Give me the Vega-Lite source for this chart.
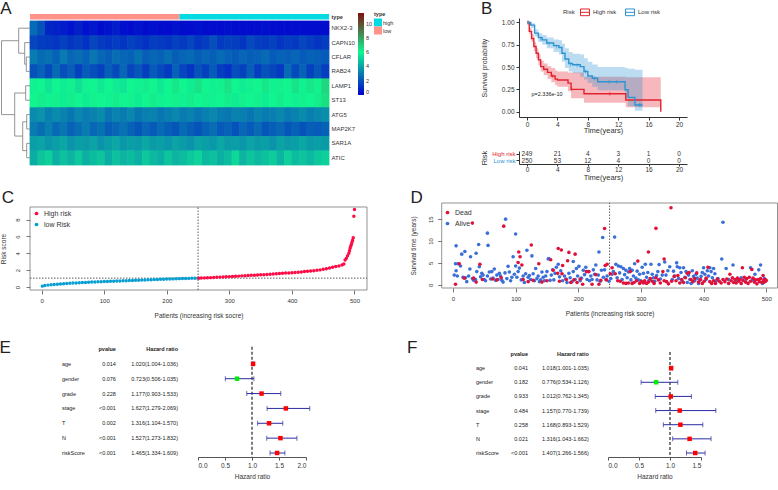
{"$schema":"https://vega.github.io/schema/vega-lite/v6.json","width":778,"height":490,"padding":0,"autosize":{"type":"none"},"background":"white",
"config":{"font":"Liberation Sans","view":{"stroke":null},"axis":{"grid":false,"labelColor":"#333","titleColor":"#333","tickColor":"#555","domainColor":"#555","titleFontWeight":"normal"},"legend":{"labelColor":"#333","titleColor":"#333"}},
"resolve":{"scale":{"x":"independent","y":"independent","color":"independent"},"axis":{"x":"independent","y":"independent"},"legend":{"color":"independent"}},
"datasets":{
"heat":[
{"g":"NKX2-3","c":1,"v":2.6},{"g":"NKX2-3","c":2,"v":2.0},{"g":"NKX2-3","c":3,"v":0.9},{"g":"NKX2-3","c":4,"v":0.8},{"g":"NKX2-3","c":5,"v":0.7},{"g":"NKX2-3","c":6,"v":0.5},{"g":"NKX2-3","c":7,"v":0.8},{"g":"NKX2-3","c":8,"v":0.4},{"g":"NKX2-3","c":9,"v":0.6},{"g":"NKX2-3","c":10,"v":0.3},{"g":"NKX2-3","c":11,"v":0.5},{"g":"NKX2-3","c":12,"v":0.7},{"g":"NKX2-3","c":13,"v":0.4},{"g":"NKX2-3","c":14,"v":0.3},{"g":"NKX2-3","c":15,"v":0.5},{"g":"NKX2-3","c":16,"v":0.3},{"g":"NKX2-3","c":17,"v":0.4},{"g":"NKX2-3","c":18,"v":0.3},{"g":"NKX2-3","c":19,"v":0.3},{"g":"NKX2-3","c":20,"v":0.5},{"g":"NKX2-3","c":21,"v":0.3},{"g":"NKX2-3","c":22,"v":0.3},{"g":"NKX2-3","c":23,"v":0.4},{"g":"NKX2-3","c":24,"v":0.3},{"g":"NKX2-3","c":25,"v":0.3},{"g":"NKX2-3","c":26,"v":0.3},{"g":"NKX2-3","c":27,"v":0.4},{"g":"NKX2-3","c":28,"v":0.3},{"g":"NKX2-3","c":29,"v":0.3},{"g":"NKX2-3","c":30,"v":0.3},{"g":"NKX2-3","c":31,"v":0.3},{"g":"NKX2-3","c":32,"v":0.4},{"g":"NKX2-3","c":33,"v":0.3},{"g":"NKX2-3","c":34,"v":0.3},{"g":"NKX2-3","c":35,"v":0.3},{"g":"NKX2-3","c":36,"v":0.3},{"g":"NKX2-3","c":37,"v":0.3},{"g":"NKX2-3","c":38,"v":0.3},{"g":"NKX2-3","c":39,"v":0.3},{"g":"NKX2-3","c":40,"v":0.3},
{"g":"CAPN10","c":1,"v":1.7},{"g":"CAPN10","c":2,"v":1.5},{"g":"CAPN10","c":3,"v":1.4},{"g":"CAPN10","c":4,"v":1.3},{"g":"CAPN10","c":5,"v":1.6},{"g":"CAPN10","c":6,"v":1.3},{"g":"CAPN10","c":7,"v":1.5},{"g":"CAPN10","c":8,"v":1.2},{"g":"CAPN10","c":9,"v":1.7},{"g":"CAPN10","c":10,"v":1.4},{"g":"CAPN10","c":11,"v":1.3},{"g":"CAPN10","c":12,"v":1.5},{"g":"CAPN10","c":13,"v":1.3},{"g":"CAPN10","c":14,"v":1.6},{"g":"CAPN10","c":15,"v":1.4},{"g":"CAPN10","c":16,"v":1.2},{"g":"CAPN10","c":17,"v":1.5},{"g":"CAPN10","c":18,"v":1.4},{"g":"CAPN10","c":19,"v":1.3},{"g":"CAPN10","c":20,"v":1.6},{"g":"CAPN10","c":21,"v":1.4},{"g":"CAPN10","c":22,"v":1.7},{"g":"CAPN10","c":23,"v":1.3},{"g":"CAPN10","c":24,"v":1.5},{"g":"CAPN10","c":25,"v":1.9},{"g":"CAPN10","c":26,"v":1.4},{"g":"CAPN10","c":27,"v":1.6},{"g":"CAPN10","c":28,"v":1.5},{"g":"CAPN10","c":29,"v":1.3},{"g":"CAPN10","c":30,"v":1.8},{"g":"CAPN10","c":31,"v":1.5},{"g":"CAPN10","c":32,"v":1.4},{"g":"CAPN10","c":33,"v":1.6},{"g":"CAPN10","c":34,"v":1.3},{"g":"CAPN10","c":35,"v":1.5},{"g":"CAPN10","c":36,"v":1.4},{"g":"CAPN10","c":37,"v":1.7},{"g":"CAPN10","c":38,"v":1.5},{"g":"CAPN10","c":39,"v":1.3},{"g":"CAPN10","c":40,"v":1.5},
{"g":"CFLAR","c":1,"v":3.0},{"g":"CFLAR","c":2,"v":2.6},{"g":"CFLAR","c":3,"v":2.8},{"g":"CFLAR","c":4,"v":2.4},{"g":"CFLAR","c":5,"v":3.0},{"g":"CFLAR","c":6,"v":2.5},{"g":"CFLAR","c":7,"v":2.7},{"g":"CFLAR","c":8,"v":2.4},{"g":"CFLAR","c":9,"v":2.9},{"g":"CFLAR","c":10,"v":2.5},{"g":"CFLAR","c":11,"v":2.3},{"g":"CFLAR","c":12,"v":2.7},{"g":"CFLAR","c":13,"v":2.5},{"g":"CFLAR","c":14,"v":2.4},{"g":"CFLAR","c":15,"v":2.8},{"g":"CFLAR","c":16,"v":2.3},{"g":"CFLAR","c":17,"v":2.5},{"g":"CFLAR","c":18,"v":2.4},{"g":"CFLAR","c":19,"v":2.7},{"g":"CFLAR","c":20,"v":2.3},{"g":"CFLAR","c":21,"v":2.5},{"g":"CFLAR","c":22,"v":2.6},{"g":"CFLAR","c":23,"v":2.3},{"g":"CFLAR","c":24,"v":2.5},{"g":"CFLAR","c":25,"v":2.3},{"g":"CFLAR","c":26,"v":2.6},{"g":"CFLAR","c":27,"v":2.4},{"g":"CFLAR","c":28,"v":2.2},{"g":"CFLAR","c":29,"v":2.5},{"g":"CFLAR","c":30,"v":2.3},{"g":"CFLAR","c":31,"v":2.4},{"g":"CFLAR","c":32,"v":2.6},{"g":"CFLAR","c":33,"v":2.2},{"g":"CFLAR","c":34,"v":2.4},{"g":"CFLAR","c":35,"v":2.3},{"g":"CFLAR","c":36,"v":2.5},{"g":"CFLAR","c":37,"v":2.2},{"g":"CFLAR","c":38,"v":2.4},{"g":"CFLAR","c":39,"v":2.3},{"g":"CFLAR","c":40,"v":2.2},
{"g":"RAB24","c":1,"v":2.0},{"g":"RAB24","c":2,"v":2.4},{"g":"RAB24","c":3,"v":1.8},{"g":"RAB24","c":4,"v":2.6},{"g":"RAB24","c":5,"v":1.9},{"g":"RAB24","c":6,"v":2.3},{"g":"RAB24","c":7,"v":1.6},{"g":"RAB24","c":8,"v":2.2},{"g":"RAB24","c":9,"v":1.9},{"g":"RAB24","c":10,"v":1.6},{"g":"RAB24","c":11,"v":2.3},{"g":"RAB24","c":12,"v":1.8},{"g":"RAB24","c":13,"v":2.5},{"g":"RAB24","c":14,"v":1.7},{"g":"RAB24","c":15,"v":2.1},{"g":"RAB24","c":16,"v":1.5},{"g":"RAB24","c":17,"v":2.2},{"g":"RAB24","c":18,"v":1.8},{"g":"RAB24","c":19,"v":1.4},{"g":"RAB24","c":20,"v":2.4},{"g":"RAB24","c":21,"v":1.7},{"g":"RAB24","c":22,"v":1.3},{"g":"RAB24","c":23,"v":2.0},{"g":"RAB24","c":24,"v":1.6},{"g":"RAB24","c":25,"v":2.2},{"g":"RAB24","c":26,"v":1.5},{"g":"RAB24","c":27,"v":1.2},{"g":"RAB24","c":28,"v":1.9},{"g":"RAB24","c":29,"v":1.6},{"g":"RAB24","c":30,"v":2.3},{"g":"RAB24","c":31,"v":1.5},{"g":"RAB24","c":32,"v":2.0},{"g":"RAB24","c":33,"v":1.7},{"g":"RAB24","c":34,"v":1.4},{"g":"RAB24","c":35,"v":2.6},{"g":"RAB24","c":36,"v":1.8},{"g":"RAB24","c":37,"v":2.4},{"g":"RAB24","c":38,"v":1.6},{"g":"RAB24","c":39,"v":2.1},{"g":"RAB24","c":40,"v":1.5},
{"g":"LAMP1","c":1,"v":5.9},{"g":"LAMP1","c":2,"v":6.0},{"g":"LAMP1","c":3,"v":5.6},{"g":"LAMP1","c":4,"v":6.0},{"g":"LAMP1","c":5,"v":5.8},{"g":"LAMP1","c":6,"v":6.1},{"g":"LAMP1","c":7,"v":5.5},{"g":"LAMP1","c":8,"v":5.9},{"g":"LAMP1","c":9,"v":6.0},{"g":"LAMP1","c":10,"v":5.7},{"g":"LAMP1","c":11,"v":6.0},{"g":"LAMP1","c":12,"v":5.8},{"g":"LAMP1","c":13,"v":5.6},{"g":"LAMP1","c":14,"v":6.0},{"g":"LAMP1","c":15,"v":5.9},{"g":"LAMP1","c":16,"v":6.2},{"g":"LAMP1","c":17,"v":6.0},{"g":"LAMP1","c":18,"v":5.7},{"g":"LAMP1","c":19,"v":6.0},{"g":"LAMP1","c":20,"v":6.3},{"g":"LAMP1","c":21,"v":6.0},{"g":"LAMP1","c":22,"v":5.8},{"g":"LAMP1","c":23,"v":6.4},{"g":"LAMP1","c":24,"v":6.0},{"g":"LAMP1","c":25,"v":5.9},{"g":"LAMP1","c":26,"v":6.1},{"g":"LAMP1","c":27,"v":6.4},{"g":"LAMP1","c":28,"v":6.0},{"g":"LAMP1","c":29,"v":5.8},{"g":"LAMP1","c":30,"v":6.1},{"g":"LAMP1","c":31,"v":6.0},{"g":"LAMP1","c":32,"v":6.3},{"g":"LAMP1","c":33,"v":5.9},{"g":"LAMP1","c":34,"v":6.1},{"g":"LAMP1","c":35,"v":6.0},{"g":"LAMP1","c":36,"v":6.4},{"g":"LAMP1","c":37,"v":5.9},{"g":"LAMP1","c":38,"v":6.3},{"g":"LAMP1","c":39,"v":6.1},{"g":"LAMP1","c":40,"v":6.7},
{"g":"ST13","c":1,"v":6.0},{"g":"ST13","c":2,"v":6.2},{"g":"ST13","c":3,"v":5.9},{"g":"ST13","c":4,"v":6.1},{"g":"ST13","c":5,"v":5.8},{"g":"ST13","c":6,"v":6.2},{"g":"ST13","c":7,"v":6.0},{"g":"ST13","c":8,"v":5.8},{"g":"ST13","c":9,"v":6.1},{"g":"ST13","c":10,"v":6.0},{"g":"ST13","c":11,"v":5.9},{"g":"ST13","c":12,"v":6.2},{"g":"ST13","c":13,"v":6.0},{"g":"ST13","c":14,"v":6.1},{"g":"ST13","c":15,"v":5.8},{"g":"ST13","c":16,"v":6.0},{"g":"ST13","c":17,"v":6.2},{"g":"ST13","c":18,"v":5.9},{"g":"ST13","c":19,"v":6.0},{"g":"ST13","c":20,"v":6.1},{"g":"ST13","c":21,"v":5.9},{"g":"ST13","c":22,"v":6.2},{"g":"ST13","c":23,"v":6.0},{"g":"ST13","c":24,"v":6.1},{"g":"ST13","c":25,"v":5.9},{"g":"ST13","c":26,"v":6.0},{"g":"ST13","c":27,"v":6.2},{"g":"ST13","c":28,"v":5.8},{"g":"ST13","c":29,"v":6.1},{"g":"ST13","c":30,"v":6.0},{"g":"ST13","c":31,"v":6.1},{"g":"ST13","c":32,"v":5.8},{"g":"ST13","c":33,"v":6.0},{"g":"ST13","c":34,"v":6.2},{"g":"ST13","c":35,"v":6.0},{"g":"ST13","c":36,"v":5.9},{"g":"ST13","c":37,"v":6.1},{"g":"ST13","c":38,"v":6.0},{"g":"ST13","c":39,"v":6.2},{"g":"ST13","c":40,"v":6.5},
{"g":"ATG5","c":1,"v":3.4},{"g":"ATG5","c":2,"v":3.6},{"g":"ATG5","c":3,"v":3.1},{"g":"ATG5","c":4,"v":3.4},{"g":"ATG5","c":5,"v":3.2},{"g":"ATG5","c":6,"v":2.9},{"g":"ATG5","c":7,"v":3.3},{"g":"ATG5","c":8,"v":3.0},{"g":"ATG5","c":9,"v":3.2},{"g":"ATG5","c":10,"v":3.4},{"g":"ATG5","c":11,"v":2.9},{"g":"ATG5","c":12,"v":3.2},{"g":"ATG5","c":13,"v":3.0},{"g":"ATG5","c":14,"v":3.3},{"g":"ATG5","c":15,"v":2.9},{"g":"ATG5","c":16,"v":3.1},{"g":"ATG5","c":17,"v":3.2},{"g":"ATG5","c":18,"v":2.9},{"g":"ATG5","c":19,"v":3.1},{"g":"ATG5","c":20,"v":3.3},{"g":"ATG5","c":21,"v":3.0},{"g":"ATG5","c":22,"v":3.2},{"g":"ATG5","c":23,"v":2.9},{"g":"ATG5","c":24,"v":3.1},{"g":"ATG5","c":25,"v":3.3},{"g":"ATG5","c":26,"v":3.0},{"g":"ATG5","c":27,"v":2.9},{"g":"ATG5","c":28,"v":3.2},{"g":"ATG5","c":29,"v":3.1},{"g":"ATG5","c":30,"v":2.9},{"g":"ATG5","c":31,"v":3.2},{"g":"ATG5","c":32,"v":3.0},{"g":"ATG5","c":33,"v":3.1},{"g":"ATG5","c":34,"v":3.3},{"g":"ATG5","c":35,"v":3.0},{"g":"ATG5","c":36,"v":3.2},{"g":"ATG5","c":37,"v":3.4},{"g":"ATG5","c":38,"v":3.1},{"g":"ATG5","c":39,"v":3.3},{"g":"ATG5","c":40,"v":3.5},
{"g":"MAP2K7","c":1,"v":3.0},{"g":"MAP2K7","c":2,"v":2.7},{"g":"MAP2K7","c":3,"v":3.1},{"g":"MAP2K7","c":4,"v":2.6},{"g":"MAP2K7","c":5,"v":2.9},{"g":"MAP2K7","c":6,"v":2.4},{"g":"MAP2K7","c":7,"v":2.7},{"g":"MAP2K7","c":8,"v":3.0},{"g":"MAP2K7","c":9,"v":2.5},{"g":"MAP2K7","c":10,"v":2.8},{"g":"MAP2K7","c":11,"v":2.3},{"g":"MAP2K7","c":12,"v":2.5},{"g":"MAP2K7","c":13,"v":2.8},{"g":"MAP2K7","c":14,"v":2.4},{"g":"MAP2K7","c":15,"v":2.1},{"g":"MAP2K7","c":16,"v":2.5},{"g":"MAP2K7","c":17,"v":2.2},{"g":"MAP2K7","c":18,"v":2.6},{"g":"MAP2K7","c":19,"v":2.3},{"g":"MAP2K7","c":20,"v":2.1},{"g":"MAP2K7","c":21,"v":2.6},{"g":"MAP2K7","c":22,"v":2.3},{"g":"MAP2K7","c":23,"v":2.0},{"g":"MAP2K7","c":24,"v":2.4},{"g":"MAP2K7","c":25,"v":2.7},{"g":"MAP2K7","c":26,"v":2.2},{"g":"MAP2K7","c":27,"v":2.4},{"g":"MAP2K7","c":28,"v":2.0},{"g":"MAP2K7","c":29,"v":2.5},{"g":"MAP2K7","c":30,"v":2.2},{"g":"MAP2K7","c":31,"v":2.6},{"g":"MAP2K7","c":32,"v":2.1},{"g":"MAP2K7","c":33,"v":2.3},{"g":"MAP2K7","c":34,"v":2.5},{"g":"MAP2K7","c":35,"v":2.1},{"g":"MAP2K7","c":36,"v":2.4},{"g":"MAP2K7","c":37,"v":2.0},{"g":"MAP2K7","c":38,"v":2.3},{"g":"MAP2K7","c":39,"v":2.2},{"g":"MAP2K7","c":40,"v":2.4},
{"g":"SAR1A","c":1,"v":3.9},{"g":"SAR1A","c":2,"v":4.0},{"g":"SAR1A","c":3,"v":3.7},{"g":"SAR1A","c":4,"v":3.9},{"g":"SAR1A","c":5,"v":4.1},{"g":"SAR1A","c":6,"v":3.6},{"g":"SAR1A","c":7,"v":3.9},{"g":"SAR1A","c":8,"v":3.8},{"g":"SAR1A","c":9,"v":4.0},{"g":"SAR1A","c":10,"v":3.6},{"g":"SAR1A","c":11,"v":3.9},{"g":"SAR1A","c":12,"v":4.1},{"g":"SAR1A","c":13,"v":3.7},{"g":"SAR1A","c":14,"v":3.9},{"g":"SAR1A","c":15,"v":3.8},{"g":"SAR1A","c":16,"v":4.1},{"g":"SAR1A","c":17,"v":3.8},{"g":"SAR1A","c":18,"v":3.9},{"g":"SAR1A","c":19,"v":3.7},{"g":"SAR1A","c":20,"v":4.0},{"g":"SAR1A","c":21,"v":3.8},{"g":"SAR1A","c":22,"v":3.6},{"g":"SAR1A","c":23,"v":4.0},{"g":"SAR1A","c":24,"v":3.9},{"g":"SAR1A","c":25,"v":3.7},{"g":"SAR1A","c":26,"v":4.1},{"g":"SAR1A","c":27,"v":3.8},{"g":"SAR1A","c":28,"v":3.9},{"g":"SAR1A","c":29,"v":3.7},{"g":"SAR1A","c":30,"v":4.0},{"g":"SAR1A","c":31,"v":3.8},{"g":"SAR1A","c":32,"v":3.9},{"g":"SAR1A","c":33,"v":3.6},{"g":"SAR1A","c":34,"v":4.0},{"g":"SAR1A","c":35,"v":3.8},{"g":"SAR1A","c":36,"v":3.9},{"g":"SAR1A","c":37,"v":4.1},{"g":"SAR1A","c":38,"v":3.8},{"g":"SAR1A","c":39,"v":3.9},{"g":"SAR1A","c":40,"v":3.8},
{"g":"ATIC","c":1,"v":4.2},{"g":"ATIC","c":2,"v":4.8},{"g":"ATIC","c":3,"v":5.1},{"g":"ATIC","c":4,"v":4.3},{"g":"ATIC","c":5,"v":4.7},{"g":"ATIC","c":6,"v":4.4},{"g":"ATIC","c":7,"v":4.9},{"g":"ATIC","c":8,"v":4.3},{"g":"ATIC","c":9,"v":4.6},{"g":"ATIC","c":10,"v":4.8},{"g":"ATIC","c":11,"v":4.2},{"g":"ATIC","c":12,"v":4.7},{"g":"ATIC","c":13,"v":4.4},{"g":"ATIC","c":14,"v":4.6},{"g":"ATIC","c":15,"v":4.3},{"g":"ATIC","c":16,"v":4.9},{"g":"ATIC","c":17,"v":4.5},{"g":"ATIC","c":18,"v":4.3},{"g":"ATIC","c":19,"v":4.8},{"g":"ATIC","c":20,"v":4.4},{"g":"ATIC","c":21,"v":4.6},{"g":"ATIC","c":22,"v":4.9},{"g":"ATIC","c":23,"v":5.2},{"g":"ATIC","c":24,"v":4.5},{"g":"ATIC","c":25,"v":4.7},{"g":"ATIC","c":26,"v":4.3},{"g":"ATIC","c":27,"v":4.6},{"g":"ATIC","c":28,"v":5.3},{"g":"ATIC","c":29,"v":4.4},{"g":"ATIC","c":30,"v":4.8},{"g":"ATIC","c":31,"v":4.5},{"g":"ATIC","c":32,"v":4.7},{"g":"ATIC","c":33,"v":5.0},{"g":"ATIC","c":34,"v":4.4},{"g":"ATIC","c":35,"v":5.1},{"g":"ATIC","c":36,"v":4.6},{"g":"ATIC","c":37,"v":4.8},{"g":"ATIC","c":38,"v":4.5},{"g":"ATIC","c":39,"v":4.9},{"g":"ATIC","c":40,"v":5.1}
],
"km":[
{"g":"High risk","t":0,"s":1,"lo":1,"hi":1},{"g":"High risk","t":0.3,"s":0.9,"lo":0.87,"hi":0.94},{"g":"High risk","t":0.6,"s":0.82,"lo":0.78,"hi":0.87},{"g":"High risk","t":0.9,"s":0.73,"lo":0.68,"hi":0.78},{"g":"High risk","t":1.2,"s":0.655,"lo":0.6,"hi":0.71},{"g":"High risk","t":1.5,"s":0.58,"lo":0.52,"hi":0.64},{"g":"High risk","t":1.8,"s":0.505,"lo":0.45,"hi":0.57},{"g":"High risk","t":2.2,"s":0.475,"lo":0.41,"hi":0.54},{"g":"High risk","t":2.7,"s":0.44,"lo":0.37,"hi":0.51},{"g":"High risk","t":3.2,"s":0.4,"lo":0.33,"hi":0.49},{"g":"High risk","t":3.7,"s":0.365,"lo":0.3,"hi":0.46},{"g":"High risk","t":4,"s":0.355,"lo":0.28,"hi":0.45},{"g":"High risk","t":5.4,"s":0.32,"lo":0.23,"hi":0.44},{"g":"High risk","t":5.8,"s":0.25,"lo":0.15,"hi":0.44},{"g":"High risk","t":7.5,"s":0.2,"lo":0.1,"hi":0.39},{"g":"High risk","t":13,"s":0.13,"lo":0.05,"hi":0.385},{"g":"High risk","t":17.6,"s":0,"lo":0.05,"hi":0.385},
{"g":"Low risk","t":0,"s":1,"lo":1,"hi":1},{"g":"Low risk","t":0.5,"s":0.97,"lo":0.94,"hi":0.99},{"g":"Low risk","t":1,"s":0.88,"lo":0.84,"hi":0.92},{"g":"Low risk","t":1.5,"s":0.83,"lo":0.78,"hi":0.88},{"g":"Low risk","t":2,"s":0.805,"lo":0.75,"hi":0.86},{"g":"Low risk","t":2.6,"s":0.77,"lo":0.71,"hi":0.83},{"g":"Low risk","t":3.5,"s":0.74,"lo":0.67,"hi":0.81},{"g":"Low risk","t":4.2,"s":0.72,"lo":0.64,"hi":0.8},{"g":"Low risk","t":4.6,"s":0.655,"lo":0.56,"hi":0.76},{"g":"Low risk","t":5,"s":0.59,"lo":0.49,"hi":0.71},{"g":"Low risk","t":5.5,"s":0.54,"lo":0.45,"hi":0.67},{"g":"Low risk","t":6,"s":0.525,"lo":0.43,"hi":0.65},{"g":"Low risk","t":7,"s":0.505,"lo":0.39,"hi":0.64},{"g":"Low risk","t":7.5,"s":0.45,"lo":0.36,"hi":0.6},{"g":"Low risk","t":8,"s":0.4,"lo":0.32,"hi":0.56},{"g":"Low risk","t":8.6,"s":0.375,"lo":0.28,"hi":0.53},{"g":"Low risk","t":9.3,"s":0.335,"lo":0.24,"hi":0.5},{"g":"Low risk","t":12.9,"s":0.245,"lo":0.15,"hi":0.49},{"g":"Low risk","t":13.3,"s":0.16,"lo":0.06,"hi":0.48},{"g":"Low risk","t":14.2,"s":0.075,"lo":0.01,"hi":0.47},{"g":"Low risk","t":15.2,"s":0.075,"lo":0.01,"hi":0.47}
],
"censor":[{"g":"High risk","t":0.1,"s":1},{"g":"High risk","t":3.4,"s":0.4},{"g":"High risk","t":5.9,"s":0.25},{"g":"High risk","t":10.9,"s":0.2},{"g":"Low risk","t":0.2,"s":1},{"g":"Low risk","t":1.8,"s":0.82},{"g":"Low risk","t":2.9,"s":0.76},{"g":"Low risk","t":3.9,"s":0.73},{"g":"Low risk","t":5.7,"s":0.53},{"g":"Low risk","t":6.6,"s":0.52},{"g":"Low risk","t":7.7,"s":0.45},{"g":"Low risk","t":8.9,"s":0.375},{"g":"Low risk","t":10.8,"s":0.335},{"g":"Low risk","t":11.8,"s":0.335},{"g":"Low risk","t":14.8,"s":0.075},{"g":"Low risk","t":15,"s":0.075}],
"riskscore":[
{"r":1,"v":0.1,"g":"low Risk"},{"r":5,"v":0.17,"g":"low Risk"},{"r":10,"v":0.22,"g":"low Risk"},{"r":15,"v":0.26,"g":"low Risk"},{"r":20,"v":0.3,"g":"low Risk"},{"r":25,"v":0.33,"g":"low Risk"},{"r":30,"v":0.36,"g":"low Risk"},{"r":35,"v":0.39,"g":"low Risk"},{"r":40,"v":0.41,"g":"low Risk"},{"r":45,"v":0.44,"g":"low Risk"},{"r":50,"v":0.46,"g":"low Risk"},{"r":55,"v":0.48,"g":"low Risk"},{"r":60,"v":0.5,"g":"low Risk"},{"r":65,"v":0.52,"g":"low Risk"},{"r":70,"v":0.54,"g":"low Risk"},{"r":75,"v":0.56,"g":"low Risk"},{"r":80,"v":0.58,"g":"low Risk"},{"r":85,"v":0.59,"g":"low Risk"},{"r":90,"v":0.61,"g":"low Risk"},{"r":95,"v":0.62,"g":"low Risk"},{"r":100,"v":0.64,"g":"low Risk"},{"r":105,"v":0.66,"g":"low Risk"},{"r":110,"v":0.67,"g":"low Risk"},{"r":115,"v":0.69,"g":"low Risk"},{"r":120,"v":0.7,"g":"low Risk"},{"r":125,"v":0.72,"g":"low Risk"},{"r":130,"v":0.73,"g":"low Risk"},{"r":135,"v":0.75,"g":"low Risk"},{"r":140,"v":0.76,"g":"low Risk"},{"r":145,"v":0.78,"g":"low Risk"},{"r":150,"v":0.79,"g":"low Risk"},{"r":155,"v":0.81,"g":"low Risk"},{"r":160,"v":0.82,"g":"low Risk"},{"r":165,"v":0.84,"g":"low Risk"},{"r":170,"v":0.85,"g":"low Risk"},{"r":175,"v":0.87,"g":"low Risk"},{"r":180,"v":0.88,"g":"low Risk"},{"r":185,"v":0.9,"g":"low Risk"},{"r":190,"v":0.91,"g":"low Risk"},{"r":195,"v":0.92,"g":"low Risk"},{"r":200,"v":0.94,"g":"low Risk"},{"r":205,"v":0.95,"g":"low Risk"},{"r":210,"v":0.96,"g":"low Risk"},{"r":215,"v":0.98,"g":"low Risk"},{"r":220,"v":0.99,"g":"low Risk"},{"r":225,"v":1.0,"g":"low Risk"},{"r":230,"v":1.01,"g":"low Risk"},{"r":235,"v":1.02,"g":"low Risk"},{"r":240,"v":1.03,"g":"low Risk"},{"r":245,"v":1.04,"g":"low Risk"},{"r":250,"v":1.05,"g":"low Risk"},
{"r":251,"v":1.05,"g":"High risk"},{"r":255,"v":1.07,"g":"High risk"},{"r":260,"v":1.08,"g":"High risk"},{"r":265,"v":1.09,"g":"High risk"},{"r":270,"v":1.11,"g":"High risk"},{"r":275,"v":1.13,"g":"High risk"},{"r":280,"v":1.15,"g":"High risk"},{"r":285,"v":1.17,"g":"High risk"},{"r":290,"v":1.19,"g":"High risk"},{"r":295,"v":1.21,"g":"High risk"},{"r":300,"v":1.23,"g":"High risk"},{"r":305,"v":1.25,"g":"High risk"},{"r":310,"v":1.27,"g":"High risk"},{"r":315,"v":1.29,"g":"High risk"},{"r":320,"v":1.32,"g":"High risk"},{"r":325,"v":1.34,"g":"High risk"},{"r":330,"v":1.36,"g":"High risk"},{"r":335,"v":1.38,"g":"High risk"},{"r":340,"v":1.4,"g":"High risk"},{"r":345,"v":1.42,"g":"High risk"},{"r":350,"v":1.44,"g":"High risk"},{"r":355,"v":1.46,"g":"High risk"},{"r":360,"v":1.49,"g":"High risk"},{"r":365,"v":1.52,"g":"High risk"},{"r":370,"v":1.54,"g":"High risk"},{"r":375,"v":1.56,"g":"High risk"},{"r":380,"v":1.59,"g":"High risk"},{"r":385,"v":1.62,"g":"High risk"},{"r":390,"v":1.65,"g":"High risk"},{"r":395,"v":1.67,"g":"High risk"},{"r":400,"v":1.7,"g":"High risk"},{"r":405,"v":1.73,"g":"High risk"},{"r":410,"v":1.76,"g":"High risk"},{"r":415,"v":1.79,"g":"High risk"},{"r":420,"v":1.83,"g":"High risk"},{"r":425,"v":1.86,"g":"High risk"},{"r":430,"v":1.89,"g":"High risk"},{"r":435,"v":1.93,"g":"High risk"},{"r":440,"v":1.98,"g":"High risk"},{"r":445,"v":2.03,"g":"High risk"},{"r":450,"v":2.1,"g":"High risk"},{"r":455,"v":2.17,"g":"High risk"},{"r":460,"v":2.25,"g":"High risk"},{"r":465,"v":2.33,"g":"High risk"},{"r":470,"v":2.42,"g":"High risk"},{"r":475,"v":2.5,"g":"High risk"},{"r":480,"v":2.6,"g":"High risk"},{"r":483,"v":2.72,"g":"High risk"},{"r":485,"v":3.2,"g":"High risk"},{"r":487,"v":3.4,"g":"High risk"},{"r":489,"v":3.7,"g":"High risk"},{"r":491,"v":4.0,"g":"High risk"},{"r":492,"v":4.3,"g":"High risk"},{"r":493,"v":4.6,"g":"High risk"},{"r":494,"v":4.85,"g":"High risk"},{"r":495,"v":5.05,"g":"High risk"},{"r":496,"v":5.3,"g":"High risk"},{"r":497,"v":5.55,"g":"High risk"},{"r":498,"v":5.85,"g":"High risk"},{"r":499,"v":8.4,"g":"High risk"},{"r":500,"v":9.2,"g":"High risk"}
],
"surv":[
{"r":2,"t":2.2,"s":"Alive"},{"r":5,"t":3.2,"s":"Alive"},{"r":7,"t":2.0,"s":"Alive"},{"r":4,"t":4.8,"s":"Alive"},{"r":8,"t":4.8,"s":"Alive"},{"r":5,"t":8.9,"s":"Alive"},{"r":12,"t":4.3,"s":"Alive"},{"r":14,"t":7.0,"s":"Alive"},{"r":19,"t":7.6,"s":"Alive"},{"r":16,"t":1.7,"s":"Alive"},{"r":20,"t":1.6,"s":"Alive"},{"r":22,"t":0.7,"s":"Alive"},{"r":25,"t":2.0,"s":"Alive"},{"r":27,"t":3.6,"s":"Alive"},{"r":28,"t":6.4,"s":"Alive"},{"r":31,"t":1.4,"s":"Alive"},{"r":33,"t":1.0,"s":"Alive"},{"r":36,"t":1.2,"s":"Alive"},{"r":37,"t":7.2,"s":"Alive"},{"r":38,"t":3.0,"s":"Alive"},{"r":41,"t":9.2,"s":"Alive"},{"r":42,"t":4.1,"s":"Alive"},{"r":44,"t":1.8,"s":"Alive"},{"r":46,"t":2.6,"s":"Alive"},{"r":48,"t":2.2,"s":"Alive"},{"r":50,"t":1.2,"s":"Alive"},{"r":52,"t":0.9,"s":"Alive"},{"r":55,"t":2.0,"s":"Alive"},{"r":55,"t":11.8,"s":"Alive"},{"r":56,"t":9.0,"s":"Alive"},{"r":58,"t":2.9,"s":"Alive"},{"r":60,"t":1.3,"s":"Alive"},{"r":62,"t":3.0,"s":"Alive"},{"r":64,"t":1.5,"s":"Alive"},{"r":66,"t":3.6,"s":"Alive"},{"r":68,"t":1.0,"s":"Alive"},{"r":70,"t":2.2,"s":"Alive"},{"r":72,"t":1.2,"s":"Alive"},{"r":74,"t":2.6,"s":"Alive"},{"r":76,"t":2.0,"s":"Alive"},{"r":78,"t":1.0,"s":"Alive"},{"r":80,"t":0.6,"s":"Alive"},{"r":83,"t":2.7,"s":"Alive"},{"r":84,"t":15,"s":"Alive"},{"r":86,"t":1.4,"s":"Alive"},{"r":88,"t":4.2,"s":"Alive"},{"r":90,"t":2.9,"s":"Alive"},{"r":92,"t":0.9,"s":"Alive"},{"r":94,"t":1.7,"s":"Alive"},{"r":96,"t":6.4,"s":"Alive"},{"r":98,"t":2.4,"s":"Alive"},{"r":100,"t":4.3,"s":"Alive"},{"r":100,"t":11.6,"s":"Alive"},{"r":102,"t":1.7,"s":"Alive"},{"r":104,"t":3.0,"s":"Alive"},{"r":106,"t":3.8,"s":"Alive"},{"r":109,"t":1.1,"s":"Alive"},{"r":112,"t":2.0,"s":"Alive"},{"r":114,"t":0.5,"s":"Alive"},{"r":116,"t":2.5,"s":"Alive"},{"r":118,"t":7.9,"s":"Alive"},{"r":120,"t":1.7,"s":"Alive"},{"r":122,"t":2.1,"s":"Alive"},{"r":124,"t":1.2,"s":"Alive"},{"r":126,"t":6.6,"s":"Alive"},{"r":128,"t":2.5,"s":"Alive"},{"r":130,"t":0.9,"s":"Alive"},{"r":132,"t":3.7,"s":"Alive"},{"r":134,"t":1.4,"s":"Alive"},{"r":136,"t":2.0,"s":"Alive"},{"r":138,"t":0.7,"s":"Alive"},{"r":140,"t":1.1,"s":"Alive"},{"r":142,"t":2.9,"s":"Alive"},{"r":144,"t":1.7,"s":"Alive"},{"r":146,"t":0.9,"s":"Alive"},{"r":148,"t":2.0,"s":"Alive"},{"r":150,"t":3.0,"s":"Alive"},{"r":152,"t":5.9,"s":"Alive"},{"r":153,"t":6.0,"s":"Alive"},{"r":155,"t":1.0,"s":"Alive"},{"r":157,"t":2.2,"s":"Alive"},{"r":159,"t":3.4,"s":"Alive"},{"r":161,"t":1.1,"s":"Alive"},{"r":163,"t":2.6,"s":"Alive"},
{"r":165,"t":4.0,"s":"Alive"},{"r":168,"t":4.7,"s":"Alive"},{"r":170,"t":1.8,"s":"Alive"},{"r":172,"t":3.2,"s":"Alive"},{"r":175,"t":0.9,"s":"Alive"},{"r":178,"t":2.0,"s":"Alive"},{"r":180,"t":1.3,"s":"Alive"},{"r":182,"t":0.5,"s":"Alive"},{"r":185,"t":2.6,"s":"Alive"},{"r":187,"t":1.6,"s":"Alive"},{"r":190,"t":0.7,"s":"Alive"},{"r":192,"t":3.0,"s":"Alive"},{"r":192,"t":5.3,"s":"Alive"},{"r":195,"t":1.2,"s":"Alive"},{"r":197,"t":3.7,"s":"Alive"},{"r":199,"t":2.0,"s":"Alive"},{"r":201,"t":4.2,"s":"Alive"},{"r":203,"t":0.9,"s":"Alive"},{"r":205,"t":1.5,"s":"Alive"},{"r":208,"t":3.3,"s":"Alive"},{"r":210,"t":2.3,"s":"Alive"},{"r":212,"t":4.0,"s":"Alive"},{"r":214,"t":1.2,"s":"Alive"},{"r":216,"t":3.0,"s":"Alive"},{"r":218,"t":0.9,"s":"Alive"},{"r":220,"t":2.0,"s":"Alive"},{"r":222,"t":1.2,"s":"Alive"},{"r":224,"t":3.4,"s":"Alive"},{"r":226,"t":2.4,"s":"Alive"},{"r":228,"t":4.5,"s":"Alive"},{"r":230,"t":1.1,"s":"Alive"},{"r":233,"t":7.5,"s":"Alive"},{"r":232,"t":2.2,"s":"Alive"},{"r":235,"t":0.8,"s":"Alive"},{"r":237,"t":3.3,"s":"Alive"},{"r":239,"t":10.8,"s":"Alive"},{"r":240,"t":1.7,"s":"Alive"},{"r":242,"t":3.4,"s":"Alive"},{"r":244,"t":1.2,"s":"Alive"},{"r":246,"t":2.0,"s":"Alive"},{"r":249,"t":0.8,"s":"Alive"},{"r":252,"t":1.4,"s":"Alive"},{"r":254,"t":2.4,"s":"Alive"},{"r":256,"t":3.0,"s":"Alive"},{"r":258,"t":10.9,"s":"Alive"},{"r":260,"t":4.7,"s":"Alive"},{"r":262,"t":1.6,"s":"Alive"},{"r":264,"t":4.3,"s":"Alive"},{"r":266,"t":2.7,"s":"Alive"},{"r":268,"t":4.1,"s":"Alive"},{"r":270,"t":1.2,"s":"Alive"},{"r":272,"t":3.7,"s":"Alive"},{"r":274,"t":2.3,"s":"Alive"},{"r":276,"t":3.3,"s":"Alive"},{"r":278,"t":1.6,"s":"Alive"},{"r":280,"t":2.9,"s":"Alive"},{"r":282,"t":3.7,"s":"Alive"},{"r":284,"t":1.1,"s":"Alive"},{"r":286,"t":3.3,"s":"Alive"},{"r":288,"t":2.0,"s":"Alive"},{"r":290,"t":4.8,"s":"Alive"},{"r":292,"t":1.5,"s":"Alive"},{"r":294,"t":3.1,"s":"Alive"},{"r":296,"t":1.1,"s":"Alive"},{"r":298,"t":2.4,"s":"Alive"},{"r":300,"t":0.9,"s":"Alive"},{"r":302,"t":4.0,"s":"Alive"},{"r":304,"t":2.6,"s":"Alive"},{"r":307,"t":4.7,"s":"Alive"},{"r":309,"t":1.7,"s":"Alive"},{"r":311,"t":2.8,"s":"Alive"},{"r":313,"t":1.0,"s":"Alive"},{"r":316,"t":4.7,"s":"Alive"},{"r":318,"t":2.4,"s":"Alive"},{"r":320,"t":1.6,"s":"Alive"},{"r":322,"t":0.8,"s":"Alive"},{"r":325,"t":2.1,"s":"Alive"},{"r":327,"t":3.0,"s":"Alive"},{"r":329,"t":4.6,"s":"Alive"},{"r":331,"t":1.3,"s":"Alive"},{"r":334,"t":2.2,"s":"Alive"},{"r":338,"t":5.2,"s":"Alive"},{"r":340,"t":2.2,"s":"Alive"},{"r":343,"t":3.2,"s":"Alive"},
{"r":346,"t":4.1,"s":"Alive"},{"r":350,"t":1.2,"s":"Alive"},{"r":352,"t":3.1,"s":"Alive"},{"r":354,"t":2.0,"s":"Alive"},{"r":357,"t":5.0,"s":"Alive"},{"r":358,"t":4.1,"s":"Alive"},{"r":360,"t":1.4,"s":"Alive"},{"r":362,"t":3.9,"s":"Alive"},{"r":364,"t":2.8,"s":"Alive"},{"r":366,"t":0.8,"s":"Alive"},{"r":368,"t":3.9,"s":"Alive"},{"r":370,"t":1.7,"s":"Alive"},{"r":372,"t":3.0,"s":"Alive"},{"r":374,"t":0.5,"s":"Alive"},{"r":376,"t":2.2,"s":"Alive"},{"r":378,"t":1.2,"s":"Alive"},{"r":380,"t":0.3,"s":"Alive"},{"r":382,"t":3.2,"s":"Alive"},{"r":384,"t":1.9,"s":"Alive"},{"r":386,"t":0.9,"s":"Alive"},{"r":388,"t":2.4,"s":"Alive"},{"r":390,"t":1.5,"s":"Alive"},{"r":392,"t":0.3,"s":"Alive"},{"r":394,"t":1.0,"s":"Alive"},{"r":396,"t":1.9,"s":"Alive"},{"r":398,"t":2.8,"s":"Alive"},{"r":400,"t":3.9,"s":"Alive"},{"r":402,"t":2.4,"s":"Alive"},{"r":404,"t":1.2,"s":"Alive"},{"r":406,"t":3.2,"s":"Alive"},{"r":408,"t":2.0,"s":"Alive"},{"r":410,"t":3.9,"s":"Alive"},{"r":412,"t":3.0,"s":"Alive"},{"r":414,"t":1.6,"s":"Alive"},{"r":416,"t":3.7,"s":"Alive"},{"r":418,"t":2.5,"s":"Alive"},{"r":420,"t":0.9,"s":"Alive"},{"r":423,"t":1.4,"s":"Alive"},{"r":429,"t":5.9,"s":"Alive"},{"r":431,"t":14.3,"s":"Alive"},{"r":436,"t":3.7,"s":"Alive"},{"r":440,"t":1.2,"s":"Alive"},{"r":447,"t":4.5,"s":"Alive"},{"r":452,"t":1.0,"s":"Alive"},{"r":460,"t":1.6,"s":"Alive"},{"r":468,"t":1.3,"s":"Alive"},{"r":475,"t":3.9,"s":"Alive"},{"r":478,"t":1.1,"s":"Alive"},{"r":482,"t":2.4,"s":"Alive"},{"r":488,"t":3.4,"s":"Alive"},{"r":491,"t":4.5,"s":"Alive"},{"r":494,"t":0.3,"s":"Alive"},{"r":497,"t":1.4,"s":"Alive"},
{"r":4,"t":0.1,"s":"Dead"},{"r":10,"t":4.8,"s":"Dead"},{"r":18,"t":1.5,"s":"Dead"},{"r":31,"t":14.1,"s":"Dead"},{"r":33,"t":1.5,"s":"Dead"},{"r":37,"t":0.6,"s":"Dead"},{"r":43,"t":4.7,"s":"Dead"},{"r":47,"t":1.2,"s":"Dead"},{"r":63,"t":1.3,"s":"Dead"},{"r":81,"t":13.4,"s":"Dead"},{"r":70,"t":1.1,"s":"Dead"},{"r":77,"t":1.6,"s":"Dead"},{"r":105,"t":7.5,"s":"Dead"},{"r":107,"t":6.4,"s":"Dead"},{"r":104,"t":5.1,"s":"Dead"},{"r":110,"t":4.5,"s":"Dead"},{"r":112,"t":1.2,"s":"Dead"},{"r":125,"t":9.1,"s":"Dead"},{"r":120,"t":0.7,"s":"Dead"},{"r":137,"t":4.8,"s":"Dead"},{"r":128,"t":1.0,"s":"Dead"},{"r":142,"t":0.6,"s":"Dead"},{"r":156,"t":5.7,"s":"Dead"},{"r":150,"t":0.9,"s":"Dead"},{"r":160,"t":3.3,"s":"Dead"},{"r":168,"t":8.3,"s":"Dead"},{"r":173,"t":7.95,"s":"Dead"},{"r":185,"t":7.4,"s":"Dead"},{"r":195,"t":7.0,"s":"Dead"},{"r":183,"t":5.5,"s":"Dead"},{"r":175,"t":4.4,"s":"Dead"},{"r":242,"t":12.85,"s":"Dead"},{"r":324,"t":12.9,"s":"Dead"},{"r":312,"t":7.5,"s":"Dead"},{"r":337,"t":5.9,"s":"Dead"},{"r":246,"t":4.7,"s":"Dead"},{"r":295,"t":5.4,"s":"Dead"},{"r":167,"t":2.6,"s":"Dead"},{"r":170,"t":0.8,"s":"Dead"},{"r":174,"t":2.5,"s":"Dead"},{"r":181,"t":1.2,"s":"Dead"},{"r":188,"t":0.5,"s":"Dead"},{"r":193,"t":1.1,"s":"Dead"},{"r":198,"t":0.5,"s":"Dead"},{"r":203,"t":1.3,"s":"Dead"},{"r":207,"t":0.1,"s":"Dead"},{"r":213,"t":3.0,"s":"Dead"},{"r":217,"t":3.0,"s":"Dead"},{"r":222,"t":0.1,"s":"Dead"},{"r":228,"t":2.3,"s":"Dead"},{"r":233,"t":0.1,"s":"Dead"},{"r":236,"t":1.0,"s":"Dead"},{"r":243,"t":4.4,"s":"Dead"},{"r":245,"t":1.1,"s":"Dead"},{"r":251,"t":2.5,"s":"Dead"},{"r":254,"t":3.9,"s":"Dead"},{"r":259,"t":2.5,"s":"Dead"},{"r":263,"t":0.9,"s":"Dead"},{"r":267,"t":0.8,"s":"Dead"},{"r":272,"t":0.4,"s":"Dead"},{"r":276,"t":0.3,"s":"Dead"},{"r":280,"t":0.4,"s":"Dead"},{"r":283,"t":3.0,"s":"Dead"},{"r":286,"t":0.3,"s":"Dead"},{"r":289,"t":0.5,"s":"Dead"},{"r":293,"t":0.9,"s":"Dead"},{"r":298,"t":0.3,"s":"Dead"},{"r":301,"t":0.7,"s":"Dead"},{"r":304,"t":0.4,"s":"Dead"},{"r":306,"t":0.9,"s":"Dead"},{"r":309,"t":0.3,"s":"Dead"},{"r":312,"t":0.6,"s":"Dead"},{"r":315,"t":1.4,"s":"Dead"},{"r":318,"t":0.8,"s":"Dead"},{"r":321,"t":0.3,"s":"Dead"},{"r":324,"t":1.6,"s":"Dead"},{"r":328,"t":1.1,"s":"Dead"},{"r":331,"t":0.4,"s":"Dead"},{"r":335,"t":3.0,"s":"Dead"},{"r":337,"t":0.9,"s":"Dead"},{"r":341,"t":0.7,"s":"Dead"},{"r":344,"t":0.2,"s":"Dead"},
{"r":348,"t":17.6,"s":"Dead"},{"r":349,"t":0.8,"s":"Dead"},{"r":353,"t":1.9,"s":"Dead"},{"r":356,"t":0.9,"s":"Dead"},{"r":359,"t":2.1,"s":"Dead"},{"r":362,"t":0.4,"s":"Dead"},{"r":365,"t":1.2,"s":"Dead"},{"r":368,"t":0.5,"s":"Dead"},{"r":371,"t":1.6,"s":"Dead"},{"r":374,"t":2.6,"s":"Dead"},{"r":377,"t":2.8,"s":"Dead"},{"r":380,"t":1.2,"s":"Dead"},{"r":383,"t":0.7,"s":"Dead"},{"r":386,"t":1.4,"s":"Dead"},{"r":389,"t":2.7,"s":"Dead"},{"r":392,"t":0.6,"s":"Dead"},{"r":395,"t":1.2,"s":"Dead"},{"r":398,"t":0.3,"s":"Dead"},{"r":401,"t":0.8,"s":"Dead"},{"r":404,"t":1.5,"s":"Dead"},{"r":407,"t":4.0,"s":"Dead"},{"r":410,"t":0.7,"s":"Dead"},{"r":413,"t":0.3,"s":"Dead"},{"r":416,"t":0.9,"s":"Dead"},{"r":419,"t":0.3,"s":"Dead"},{"r":422,"t":1.3,"s":"Dead"},{"r":425,"t":0.8,"s":"Dead"},{"r":428,"t":0.4,"s":"Dead"},{"r":431,"t":1.2,"s":"Dead"},{"r":434,"t":0.7,"s":"Dead"},{"r":437,"t":1.3,"s":"Dead"},{"r":440,"t":0.3,"s":"Dead"},{"r":442,"t":2.4,"s":"Dead"},{"r":444,"t":0.9,"s":"Dead"},{"r":446,"t":1.6,"s":"Dead"},{"r":448,"t":0.5,"s":"Dead"},{"r":450,"t":1.2,"s":"Dead"},{"r":452,"t":0.4,"s":"Dead"},{"r":454,"t":1.5,"s":"Dead"},{"r":456,"t":0.8,"s":"Dead"},{"r":458,"t":1.2,"s":"Dead"},{"r":460,"t":0.3,"s":"Dead"},{"r":462,"t":3.9,"s":"Dead"},{"r":463,"t":1.0,"s":"Dead"},{"r":465,"t":1.7,"s":"Dead"},{"r":467,"t":0.6,"s":"Dead"},{"r":469,"t":1.4,"s":"Dead"},{"r":471,"t":0.3,"s":"Dead"},{"r":473,"t":1.7,"s":"Dead"},{"r":475,"t":0.8,"s":"Dead"},{"r":477,"t":3.5,"s":"Dead"},{"r":479,"t":1.5,"s":"Dead"},{"r":481,"t":0.6,"s":"Dead"},{"r":483,"t":1.1,"s":"Dead"},{"r":485,"t":0.2,"s":"Dead"},{"r":487,"t":1.2,"s":"Dead"},{"r":489,"t":0.7,"s":"Dead"},{"r":491,"t":1.4,"s":"Dead"},{"r":493,"t":0.5,"s":"Dead"},{"r":495,"t":2.1,"s":"Dead"},{"r":496,"t":1.0,"s":"Dead"},{"r":497,"t":0.6,"s":"Dead"},{"r":498,"t":1.2,"s":"Dead"},{"r":499,"t":0.8,"s":"Dead"},{"r":500,"t":1.0,"s":"Dead"}
],
"coxE":[{"row":1,"name":"age","p":"0.014","hr":1.02,"lo":1.004,"hi":1.036,"txt":"1.020(1.004-1.036)","dir":"up"},{"row":2,"name":"gender","p":"0.076","hr":0.723,"lo":0.506,"hi":1.035,"txt":"0.723(0.506-1.035)","dir":"down"},{"row":3,"name":"grade","p":"0.228","hr":1.177,"lo":0.903,"hi":1.533,"txt":"1.177(0.903-1.533)","dir":"up"},{"row":4,"name":"stage","p":"<0.001","hr":1.627,"lo":1.279,"hi":2.069,"txt":"1.627(1.279-2.069)","dir":"up"},{"row":5,"name":"T","p":"0.002","hr":1.316,"lo":1.104,"hi":1.57,"txt":"1.316(1.104-1.570)","dir":"up"},{"row":6,"name":"N","p":"<0.001","hr":1.527,"lo":1.273,"hi":1.832,"txt":"1.527(1.273-1.832)","dir":"up"},{"row":7,"name":"riskScore","p":"<0.001","hr":1.465,"lo":1.334,"hi":1.609,"txt":"1.465(1.334-1.609)","dir":"up"}],
"coxF":[{"row":1,"name":"age","p":"0.041","hr":1.018,"lo":1.001,"hi":1.035,"txt":"1.018(1.001-1.035)","dir":"up"},{"row":2,"name":"gender","p":"0.182","hr":0.776,"lo":0.534,"hi":1.126,"txt":"0.776(0.534-1.126)","dir":"down"},{"row":3,"name":"grade","p":"0.933","hr":1.012,"lo":0.762,"hi":1.345,"txt":"1.012(0.762-1.345)","dir":"up"},{"row":4,"name":"stage","p":"0.484","hr":1.157,"lo":0.77,"hi":1.739,"txt":"1.157(0.770-1.739)","dir":"up"},{"row":5,"name":"T","p":"0.258","hr":1.168,"lo":0.893,"hi":1.529,"txt":"1.168(0.893-1.529)","dir":"up"},{"row":6,"name":"N","p":"0.021","hr":1.316,"lo":1.043,"hi":1.662,"txt":"1.316(1.043-1.662)","dir":"up"},{"row":7,"name":"riskScore","p":"<0.001","hr":1.407,"lo":1.266,"hi":1.566,"txt":"1.407(1.266-1.566)","dir":"up"}]
},
"layer":[
{"data":{"name":"heat"},"mark":{"type":"rect","filled":false,"strokeWidth":0.8},"encoding":{
"x":{"field":"c","type":"ordinal","axis":null,"scale":{"type":"band","range":[30,329],"paddingInner":0,"paddingOuter":0}},
"y":{"field":"g","type":"nominal","axis":null,"scale":{"type":"band","domain":["NKX2-3","CAPN10","CFLAR","RAB24","LAMP1","ST13","ATG5","MAP2K7","SAR1A","ATIC"],"range":[21,165],"paddingInner":0,"paddingOuter":0}},
"color":{"field":"v","type":"quantitative","legend":null,"scale":{"domain":[0,6,11.5],"range":["#0000d0","#10f590","#7f0f0f"],"interpolate":"rgb"}}}},
{"data":{"name":"heat"},"mark":{"type":"rect"},"encoding":{
"x":{"field":"c","type":"ordinal","axis":null,"scale":{"type":"band","range":[30,329],"paddingInner":0,"paddingOuter":0}},
"y":{"field":"g","type":"nominal","scale":{"type":"band","domain":["NKX2-3","CAPN10","CFLAR","RAB24","LAMP1","ST13","ATG5","MAP2K7","SAR1A","ATIC"],"range":[21,165],"paddingInner":0,"paddingOuter":0},"axis":{"orient":"right","offset":-447,"title":null,"domain":false,"ticks":false,"labelPadding":0,"labelFontSize":6}},
"color":{"field":"v","type":"quantitative","scale":{"domain":[0,6,11.5],"range":["#0000d0","#10f590","#7f0f0f"],"interpolate":"rgb"},"legend":{"orient":"none","legendX":358,"legendY":13,"title":null,"type":"gradient","direction":"vertical","gradientLength":82,"gradientThickness":6,"values":[0,2,4,6,8,10],"labelFontSize":5.5,"gradientStrokeWidth":0}}}},
{"data":{"values":[{"type":"low","from":0,"to":250,"track":"type"},{"type":"high","from":250,"to":500,"track":"type"}]},"mark":{"type":"rect"},"encoding":{
"x":{"field":"from","type":"quantitative","axis":null,"scale":{"domain":[0,500],"range":[30,329],"nice":false,"zero":false}},"x2":{"field":"to"},
"y":{"field":"track","type":"nominal","scale":{"type":"band","range":[14,19.5],"paddingInner":0,"paddingOuter":0},"axis":{"orient":"right","offset":-447,"title":null,"domain":false,"ticks":false,"labelPadding":0,"labelFontSize":5.5,"labelFontWeight":"bold"}},
"color":{"field":"type","type":"nominal","scale":{"domain":["high","low"],"range":["#00dae0","#ff9289"]},"legend":{"orient":"none","legendX":374,"legendY":12,"title":"type","titleFontSize":5.5,"titleFontWeight":"bold","titlePadding":1,"symbolType":"square","symbolSize":64,"symbolStrokeWidth":0,"symbolOffset":0,"labelFontSize":5.5,"labelOffset":1,"rowPadding":0}}}},
{"layer":[
{"data":{"values":[{"h1":28.5,"h2":11.3,"i1":1.87,"i2":1.87},{"h1":28.5,"h2":15.3,"i1":7,"i2":7},{"h1":28.5,"h2":28.5,"i1":1.87,"i2":7},{"h1":11.3,"h2":11.3,"i1":1,"i2":2.74},{"h1":11.3,"h2":0,"i1":1,"i2":1},{"h1":11.3,"h2":5.3,"i1":2.74,"i2":2.74},{"h1":5.3,"h2":5.3,"i1":2,"i2":3.5},{"h1":5.3,"h2":0,"i1":2,"i2":2},{"h1":5.3,"h2":3.7,"i1":3.5,"i2":3.5},{"h1":3.7,"h2":3.7,"i1":3,"i2":4},{"h1":3.7,"h2":0,"i1":3,"i2":3},{"h1":3.7,"h2":0,"i1":4,"i2":4},{"h1":15.3,"h2":15.3,"i1":5.5,"i2":8.49},{"h1":15.3,"h2":4.3,"i1":5.5,"i2":5.5},{"h1":4.3,"h2":4.3,"i1":5,"i2":6},{"h1":4.3,"h2":0,"i1":5,"i2":5},{"h1":4.3,"h2":0,"i1":6,"i2":6},{"h1":15.3,"h2":7.3,"i1":8.49,"i2":8.49},{"h1":7.3,"h2":7.3,"i1":7.5,"i2":9.5},{"h1":7.3,"h2":3.3,"i1":7.5,"i2":7.5},{"h1":3.3,"h2":3.3,"i1":7,"i2":8},{"h1":3.3,"h2":0,"i1":7,"i2":7},{"h1":3.3,"h2":0,"i1":8,"i2":8},{"h1":7.3,"h2":3.3,"i1":9.5,"i2":9.5},{"h1":3.3,"h2":3.3,"i1":9,"i2":10},{"h1":3.3,"h2":0,"i1":9,"i2":9},{"h1":3.3,"h2":0,"i1":10,"i2":10}]},"mark":{"type":"rule","color":"#888","strokeWidth":0.9},"encoding":{"x":{"field":"h1","type":"quantitative","axis":null,"scale":{"domain":[30,0],"range":[0,30],"nice":false,"zero":false}},"x2":{"field":"h2"},"y":{"field":"i1","type":"quantitative","axis":null,"scale":{"domain":[1,10],"range":[28.2,157.8],"nice":false,"zero":false}},"y2":{"field":"i2"}}},
{"data":{"values":[{"t":"A"}]},"mark":{"type":"text","fontSize":17,"color":"#222"},"encoding":{"x":{"datum":24,"type":"quantitative","axis":null},"y":{"datum":-0.3,"type":"quantitative","axis":null},"text":{"field":"t"}}}
]},
{"layer":[
{"data":{"name":"km"},"mark":{"type":"area","interpolate":"step-after","opacity":0.32},"encoding":{"x":{"field":"t","type":"quantitative","axis":null,"scale":{"domain":[-1.05,21.05],"range":[519,687],"nice":false,"zero":false}},"y":{"field":"lo","type":"quantitative","axis":null,"scale":{"domain":[-0.06,1.05],"range":[117,18],"nice":false,"zero":false}},"y2":{"field":"hi"},"color":{"field":"g","type":"nominal","legend":null,"scale":{"domain":["High risk","Low risk"],"range":["#e2232e","#2d93d2"]}}}},
{"data":{"name":"censor"},"mark":{"type":"tick","orient":"vertical","size":4,"thickness":0.8},"encoding":{"x":{"field":"t","type":"quantitative","axis":null},"y":{"field":"s","type":"quantitative","axis":null},"color":{"field":"g","type":"nominal","legend":null}}},
{"data":{"values":[{"t":"p=2.336e-10"}]},"mark":{"type":"text","fontSize":5.5,"color":"#222"},"encoding":{"x":{"datum":2.63,"type":"quantitative","axis":null},"y":{"datum":0.2,"type":"quantitative","axis":null},"text":{"field":"t"}}},
{"data":{"values":[{"t":"B"}]},"mark":{"type":"text","fontSize":17,"color":"#222"},"encoding":{"x":{"datum":-5.3,"type":"quantitative","axis":null},"y":{"datum":1.148,"type":"quantitative","axis":null},"text":{"field":"t"}}}
]},
{"data":{"name":"km"},"mark":{"type":"line","interpolate":"step-after","strokeWidth":1.4},"encoding":{"x":{"field":"t","type":"quantitative","axis":{"orient":"bottom","offset":-373,"values":[0,4,8,12,16,20],"title":"Time(years)","titleFontSize":7.5,"titlePadding":-1,"labelFontSize":6.5,"tickSize":3,"labelPadding":1,"domainColor":"#333","tickColor":"#333"},"scale":{"domain":[-1.05,21.05],"range":[519,687],"nice":false,"zero":false}},"y":{"field":"s","type":"quantitative","axis":{"orient":"left","offset":-519,"values":[0,0.25,0.5,0.75,1],"format":".2f","title":"Survival probability","titleFontSize":7,"titlePadding":14,"labelFontSize":6.5,"tickSize":3,"labelPadding":2,"domainColor":"#333","tickColor":"#333"},"scale":{"domain":[-0.06,1.05],"range":[117,18],"nice":false,"zero":false}},"color":{"field":"g","type":"nominal","scale":{"domain":["High risk","Low risk"],"range":["#e2232e","#2d93d2"]},"legend":{"orient":"none","legendX":563,"legendY":7,"direction":"horizontal","title":"Risk","titleOrient":"left","titleFontSize":6,"titleFontWeight":"normal","titlePadding":5,"labelFontSize":6,"symbolType":"M-1,-0.75H1V0.75H-1ZM-1,0H1","symbolSize":80,"symbolStrokeWidth":1,"columnPadding":6,"labelOffset":3}}}},
{"data":{"values":[{"g":"High risk","t":0,"n":249},{"g":"High risk","t":4,"n":21},{"g":"High risk","t":8,"n":4},{"g":"High risk","t":12,"n":3},{"g":"High risk","t":16,"n":1},{"g":"High risk","t":20,"n":0},{"g":"Low risk","t":0,"n":250},{"g":"Low risk","t":4,"n":53},{"g":"Low risk","t":8,"n":12},{"g":"Low risk","t":12,"n":4},{"g":"Low risk","t":16,"n":0},{"g":"Low risk","t":20,"n":0}]},"mark":{"type":"text","fontSize":6.5,"color":"#333"},"encoding":{"x":{"field":"t","type":"quantitative","axis":{"orient":"bottom","offset":-326,"values":[0,4,8,12,16,20],"title":"Time(years)","titleFontSize":7.5,"titlePadding":1,"labelFontSize":6.5,"tickSize":2,"labelPadding":0,"domainColor":"#333","tickColor":"#333"},"scale":{"domain":[-1.05,21.05],"range":[519,687],"nice":false,"zero":false}},"y":{"field":"g","type":"nominal","scale":{"type":"band","domain":["High risk","Low risk"],"range":[151,164],"paddingInner":0,"paddingOuter":0},"axis":{"orient":"left","offset":-519,"title":"Risk","titleFontSize":7.5,"titlePadding":3,"labelFontSize":6,"tickSize":3,"labelPadding":1,"domainColor":"#333","tickColor":"#333","labelColor":{"expr":"datum.label=='High risk'?'#e2232e':'#2d93d2'"}}},"text":{"field":"n"}}},
{"layer":[
{"data":{"values":[{"t":"C"}]},"mark":{"type":"text","fontSize":17,"color":"#222"},"encoding":{"x":{"datum":-54,"type":"quantitative","axis":null,"scale":{"domain":[-18.7,520],"range":[30,367],"nice":false,"zero":false}},"y":{"datum":10.6,"type":"quantitative","axis":null,"scale":{"domain":[-0.36,9.5],"range":[290,207],"nice":false,"zero":false}},"text":{"field":"t"}}},
{"data":{"values":[{"x0":-18.7,"x1":520,"y0":-0.36,"y1":9.5}]},"mark":{"type":"rect","fillOpacity":0,"stroke":"#777","strokeWidth":0.8},"encoding":{"x":{"field":"x0","type":"quantitative","axis":null},"x2":{"field":"x1"},"y":{"field":"y0","type":"quantitative","axis":null},"y2":{"field":"y1"}}},
{"data":{"values":[{"a":250,"b":-0.36,"c":9.5}]},"mark":{"type":"rule","strokeDash":[1.5,1.5],"color":"#333","strokeWidth":0.8},"encoding":{"x":{"field":"a","type":"quantitative","axis":null},"y":{"field":"b","type":"quantitative","axis":null},"y2":{"field":"c"}}},
{"data":{"values":[{"a":-18.7,"b":520,"c":1.05}]},"mark":{"type":"rule","strokeDash":[1.5,1.5],"color":"#333","strokeWidth":0.8},"encoding":{"x":{"field":"a","type":"quantitative","axis":null},"x2":{"field":"b"},"y":{"field":"c","type":"quantitative","axis":null}}}
]},
{"data":{"name":"riskscore"},"mark":{"type":"point","filled":true,"size":12,"opacity":1},"encoding":{"x":{"field":"r","type":"quantitative","axis":{"orient":"bottom","offset":-200,"domain":false,"values":[0,100,200,300,400,500],"title":"Patients (increasing risk socre)","titleFontSize":6.5,"titlePadding":9,"labelFontSize":6,"tickSize":4,"labelPadding":3,"tickColor":"#777"},"scale":{"domain":[-18.7,520],"range":[30,367],"nice":false,"zero":false}},"y":{"field":"v","type":"quantitative","axis":{"orient":"left","offset":-30,"domain":false,"values":[0,2,4,6,8],"title":"Risk score","titleFontSize":6.5,"titlePadding":8,"labelFontSize":6,"labelAngle":-90,"labelAlign":"center","labelBaseline":"bottom","tickSize":4,"labelPadding":6,"tickColor":"#777"},"scale":{"domain":[-0.36,9.5],"range":[290,207],"nice":false,"zero":false}},"color":{"field":"g","type":"nominal","scale":{"domain":["High risk","low Risk"],"range":["#ff0a45","#0a9fd2"]},"legend":{"orient":"none","legendX":33,"legendY":210,"title":null,"symbolType":"circle","symbolSize":14,"labelFontSize":7,"labelOffset":4,"rowPadding":3}}}},
{"layer":[
{"data":{"values":[{"t":"D"}]},"mark":{"type":"text","fontSize":17,"color":"#222"},"encoding":{"x":{"datum":-58,"type":"quantitative","axis":null,"scale":{"domain":[-18,518],"range":[441.7,777.5],"nice":false,"zero":false}},"y":{"datum":19.9,"type":"quantitative","axis":null,"scale":{"domain":[-0.75,18.7],"range":[288,203],"nice":false,"zero":false}},"text":{"field":"t"}}},
{"data":{"values":[{"x0":-18,"x1":518,"y0":-0.75,"y1":18.7}]},"mark":{"type":"rect","fillOpacity":0,"stroke":"#777","strokeWidth":0.8},"encoding":{"x":{"field":"x0","type":"quantitative","axis":null},"x2":{"field":"x1"},"y":{"field":"y0","type":"quantitative","axis":null},"y2":{"field":"y1"}}},
{"data":{"values":[{"a":250,"b":-0.75,"c":18.7}]},"mark":{"type":"rule","strokeDash":[1.5,1.5],"color":"#333","strokeWidth":0.8},"encoding":{"x":{"field":"a","type":"quantitative","axis":null},"y":{"field":"b","type":"quantitative","axis":null},"y2":{"field":"c"}}}
]},
{"data":{"name":"surv"},"mark":{"type":"point","filled":true,"size":13,"opacity":1},"encoding":{"x":{"field":"r","type":"quantitative","axis":{"orient":"bottom","offset":-202,"domain":false,"values":[0,100,200,300,400,500],"title":"Patients (increasing risk socre)","titleFontSize":6.5,"titlePadding":9,"labelFontSize":6,"tickSize":4,"labelPadding":3,"tickColor":"#777"},"scale":{"domain":[-18,518],"range":[441.7,777.5],"nice":false,"zero":false}},"y":{"field":"t","type":"quantitative","axis":{"orient":"left","offset":-441.7,"domain":false,"values":[0,5,10,15],"title":"Survival time (years)","titleFontSize":6.5,"titlePadding":11,"labelFontSize":6,"labelAngle":-90,"labelAlign":"center","labelBaseline":"bottom","tickSize":4,"labelPadding":4,"tickColor":"#777"},"scale":{"domain":[-0.75,18.7],"range":[288,203],"nice":false,"zero":false}},"color":{"field":"s","type":"nominal","scale":{"domain":["Dead","Alive"],"range":["#e0103a","#3a6fd8"]},"legend":{"orient":"none","legendX":444,"legendY":209,"title":null,"symbolType":"circle","symbolSize":14,"labelFontSize":7,"labelOffset":4,"rowPadding":3}}}},
{"layer":[
{"data":{"values":[{"t":"E"}]},"mark":{"type":"text","fontSize":17,"color":"#222"},"encoding":{"x":{"datum":-3.57,"type":"quantitative","axis":null,"scale":{"domain":[0,2],"range":[198,306],"nice":false,"zero":false}},"y":{"datum":-0.07,"type":"quantitative","axis":null,"scale":{"domain":[0,7],"range":[349,453],"nice":false,"zero":false}},"text":{"field":"t"}}},
{"data":{"values":[{"h":"pvalue","r":"Hazard ratio","row":0}]},"mark":{"type":"text","fontSize":5.5,"fontWeight":"bold","align":"right","color":"#222"},"encoding":{"x":{"datum":-1.52,"type":"quantitative","axis":null},"y":{"field":"row","type":"quantitative","axis":null},"text":{"field":"h"}}},
{"data":{"values":[{"h":"pvalue","r":"Hazard ratio","row":0}]},"mark":{"type":"text","fontSize":5.5,"fontWeight":"bold","align":"right","color":"#222"},"encoding":{"x":{"datum":-0.37,"type":"quantitative","axis":null},"y":{"field":"row","type":"quantitative","axis":null},"text":{"field":"r"}}},
{"data":{"name":"coxE"},"mark":{"type":"text","fontSize":5.5,"align":"left","color":"#222"},"encoding":{"x":{"datum":-2.52,"type":"quantitative","axis":null},"y":{"field":"row","type":"quantitative","axis":null},"text":{"field":"name"}}},
{"data":{"name":"coxE"},"mark":{"type":"text","fontSize":5.5,"align":"right","color":"#222"},"encoding":{"x":{"datum":-1.52,"type":"quantitative","axis":null},"y":{"field":"row","type":"quantitative","axis":null},"text":{"field":"p"}}},
{"data":{"name":"coxE"},"mark":{"type":"text","fontSize":5.5,"align":"right","color":"#222"},"encoding":{"x":{"datum":-0.37,"type":"quantitative","axis":null},"y":{"field":"row","type":"quantitative","axis":null},"text":{"field":"txt"}}},
{"data":{"values":[{"a":1,"b":-0.15,"c":7.27}]},"mark":{"type":"rule","strokeDash":[3,2],"color":"#111","strokeWidth":1.1},"encoding":{"x":{"field":"a","type":"quantitative","axis":null},"y":{"field":"b","type":"quantitative","axis":null},"y2":{"field":"c"}}},
{"data":{"name":"coxE"},"mark":{"type":"rule","color":"#2a2aa0","strokeWidth":1},"encoding":{"x":{"field":"lo","type":"quantitative","axis":null},"x2":{"field":"hi"},"y":{"field":"row","type":"quantitative","axis":null}}},
{"data":{"name":"coxE"},"mark":{"type":"tick","orient":"vertical","size":5,"thickness":1,"color":"#2a2aa0"},"encoding":{"x":{"field":"lo","type":"quantitative","axis":null},"y":{"field":"row","type":"quantitative","axis":null}}},
{"data":{"name":"coxE"},"mark":{"type":"tick","orient":"vertical","size":5,"thickness":1,"color":"#2a2aa0"},"encoding":{"x":{"field":"hi","type":"quantitative","axis":null},"y":{"field":"row","type":"quantitative","axis":null}}}
]},
{"data":{"name":"coxE"},"mark":{"type":"square","size":20,"opacity":1},"encoding":{"x":{"field":"hr","type":"quantitative","axis":{"orient":"bottom","offset":-33,"values":[0,0.5,1,1.5,2],"format":".1f","title":"Hazard ratio","titleFontSize":6.5,"titlePadding":5,"labelFontSize":6.5,"tickSize":3,"labelPadding":2},"scale":{"domain":[0,2],"range":[198,306],"nice":false,"zero":false}},"y":{"field":"row","type":"quantitative","axis":null,"scale":{"domain":[0,7],"range":[349,453],"nice":false,"zero":false}},"color":{"field":"dir","type":"nominal","legend":null,"scale":{"domain":["up","down"],"range":["#ff0000","#00ee00"]}}}},
{"layer":[
{"data":{"values":[{"t":"F"}]},"mark":{"type":"text","fontSize":17,"color":"#222"},"encoding":{"x":{"datum":-3.16,"type":"quantitative","axis":null,"scale":{"domain":[0,1.5],"range":[608,701],"nice":false,"zero":false}},"y":{"datum":-0.4,"type":"quantitative","axis":null,"scale":{"domain":[0,7],"range":[354,453],"nice":false,"zero":false}},"text":{"field":"t"}}},
{"data":{"values":[{"h":"pvalue","r":"Hazard ratio","row":0}]},"mark":{"type":"text","fontSize":5.5,"fontWeight":"bold","align":"right","color":"#222"},"encoding":{"x":{"datum":-1.29,"type":"quantitative","axis":null},"y":{"field":"row","type":"quantitative","axis":null},"text":{"field":"h"}}},
{"data":{"values":[{"h":"pvalue","r":"Hazard ratio","row":0}]},"mark":{"type":"text","fontSize":5.5,"fontWeight":"bold","align":"right","color":"#222"},"encoding":{"x":{"datum":-0.31,"type":"quantitative","axis":null},"y":{"field":"row","type":"quantitative","axis":null},"text":{"field":"r"}}},
{"data":{"name":"coxF"},"mark":{"type":"text","fontSize":5.5,"align":"left","color":"#222"},"encoding":{"x":{"datum":-2.13,"type":"quantitative","axis":null},"y":{"field":"row","type":"quantitative","axis":null},"text":{"field":"name"}}},
{"data":{"name":"coxF"},"mark":{"type":"text","fontSize":5.5,"align":"right","color":"#222"},"encoding":{"x":{"datum":-1.29,"type":"quantitative","axis":null},"y":{"field":"row","type":"quantitative","axis":null},"text":{"field":"p"}}},
{"data":{"name":"coxF"},"mark":{"type":"text","fontSize":5.5,"align":"right","color":"#222"},"encoding":{"x":{"datum":-0.31,"type":"quantitative","axis":null},"y":{"field":"row","type":"quantitative","axis":null},"text":{"field":"txt"}}},
{"data":{"values":[{"a":1,"b":-0.15,"c":7.27}]},"mark":{"type":"rule","strokeDash":[3,2],"color":"#111","strokeWidth":1.1},"encoding":{"x":{"field":"a","type":"quantitative","axis":null},"y":{"field":"b","type":"quantitative","axis":null},"y2":{"field":"c"}}},
{"data":{"name":"coxF"},"mark":{"type":"rule","color":"#2a2aa0","strokeWidth":1},"encoding":{"x":{"field":"lo","type":"quantitative","axis":null},"x2":{"field":"hi"},"y":{"field":"row","type":"quantitative","axis":null}}},
{"data":{"name":"coxF"},"mark":{"type":"tick","orient":"vertical","size":5,"thickness":1,"color":"#2a2aa0"},"encoding":{"x":{"field":"lo","type":"quantitative","axis":null},"y":{"field":"row","type":"quantitative","axis":null}}},
{"data":{"name":"coxF"},"mark":{"type":"tick","orient":"vertical","size":5,"thickness":1,"color":"#2a2aa0"},"encoding":{"x":{"field":"hi","type":"quantitative","axis":null},"y":{"field":"row","type":"quantitative","axis":null}}}
]},
{"data":{"name":"coxF"},"mark":{"type":"square","size":20,"opacity":1},"encoding":{"x":{"field":"hr","type":"quantitative","axis":{"orient":"bottom","offset":-33,"values":[0,0.5,1,1.5],"format":".1f","title":"Hazard ratio","titleFontSize":6.5,"titlePadding":5,"labelFontSize":6.5,"tickSize":3,"labelPadding":2},"scale":{"domain":[0,1.5],"range":[608,701],"nice":false,"zero":false}},"y":{"field":"row","type":"quantitative","axis":null,"scale":{"domain":[0,7],"range":[354,453],"nice":false,"zero":false}},"color":{"field":"dir","type":"nominal","legend":null,"scale":{"domain":["up","down"],"range":["#ff0000","#00ee00"]}}}}
]}
